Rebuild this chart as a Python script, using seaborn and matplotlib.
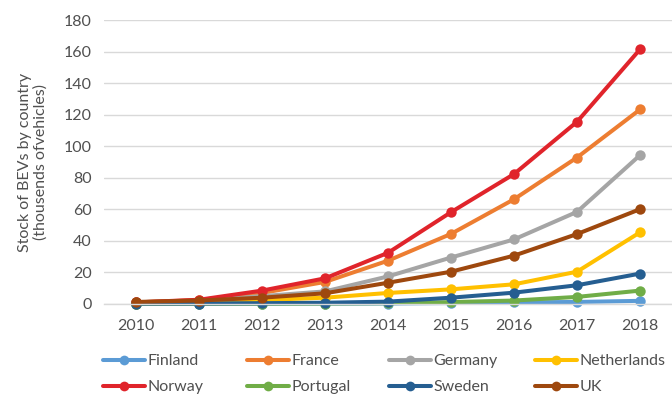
import numpy as np
import pandas as pd
import seaborn as sns
import matplotlib
matplotlib.use("Agg")
import matplotlib.pyplot as plt
from matplotlib.lines import Line2D

# Stock of battery electric vehicles, thousands of vehicles
years = [2010, 2011, 2012, 2013, 2014, 2015, 2016, 2017, 2018]
finland = [0.0, 0.1, 0.1, 0.2, 0.3, 0.6, 1.0, 1.3, 2.0]
france = [1.0, 2.5, 7.0, 14.0, 27.5, 44.5, 66.5, 93.0, 123.5]
germany = [1.0, 2.0, 5.0, 8.0, 17.5, 29.5, 41.0, 58.5, 94.5]
netherlands = [0.3, 1.0, 2.5, 4.0, 7.0, 9.3, 12.5, 20.5, 45.5]
norway = [1.0, 2.7, 8.5, 16.3, 32.5, 58.3, 82.5, 115.7, 161.7]
portugal = [0.0, 0.1, 0.2, 0.3, 0.5, 1.2, 2.2, 4.5, 8.5]
sweden = [0.2, 0.3, 0.5, 0.8, 1.5, 4.0, 7.2, 11.9, 19.3]
uk = [1.3, 2.2, 4.0, 6.8, 13.5, 20.5, 30.7, 44.4, 60.2]

countries = ["Finland", "France", "Germany", "Netherlands",
             "Norway", "Portugal", "Sweden", "UK"]
series = [finland, france, germany, netherlands, norway, portugal, sweden, uk]
colors = ["#5B9BD5", "#ED7D31", "#A5A5A5", "#FFC000",
          "#E0242B", "#70AD47", "#255E91", "#9E480E"]

df = pd.DataFrame({
    "year": np.tile(years, len(countries)),
    "stock": np.concatenate(series),
    "country": np.repeat(countries, len(years)),
})

sns.set_theme(style="white")
plt.rcParams["font.family"] = ["Lato", "DejaVu Sans"]

text_color = "#505050"
grid_color = "#D9D9D9"

fig = plt.figure(figsize=(6.72, 4.05), dpi=100)
ax = fig.add_axes([0.1555, 0.2494, 0.8438, 0.7000])

sns.lineplot(data=df, x="year", y="stock", hue="country",
             hue_order=countries, palette=colors, marker="o",
             linewidth=2.9, markersize=7.5, markeredgewidth=0,
             legend=False, ax=ax, sort=False)

for ln in ax.get_lines():
    ln.set_clip_on(False)
    ln.set_solid_capstyle("round")

ax.set_xlim(years[0] - 0.5, years[-1] + 0.5)
ax.set_ylim(0, 180)
ax.set_yticks(np.arange(0, 181, 20))
ax.set_xticks(years)
ax.set_xticks(np.arange(years[0] - 0.5, years[-1] + 0.6, 1), minor=True)

ax.grid(axis="y", color=grid_color, linewidth=1.0)
ax.set_axisbelow(True)
for side in ["top", "right", "left"]:
    ax.spines[side].set_visible(False)
ax.spines["bottom"].set_color(grid_color)
ax.spines["bottom"].set_linewidth(1.0)

ax.tick_params(axis="both", which="major", labelsize=11.5,
               labelcolor=text_color, length=0)
ax.tick_params(axis="y", pad=9)
ax.tick_params(axis="x", pad=11)
ax.tick_params(axis="x", which="minor", length=4, width=0.8,
               color=grid_color, direction="out")

ax.set_xlabel("")
ax.set_ylabel("Stock of BEVs by country\n(thousends ofvehicles)",
              fontsize=11.5, color=text_color, linespacing=1.05,
              labelpad=12)

# Legend: two rows of four entries in evenly spaced columns
col_x = [103, 247, 389, 535]
row_y = [365, 398]
W, H = 672, 405
for c in range(4):
    handles = []
    labels = []
    for r in range(2):
        i = r * 4 + c
        handles.append(Line2D([], [], color=colors[i], linewidth=2.9,
                              marker="o", markersize=7,
                              markeredgewidth=0))
        labels.append(countries[i])
    leg = fig.legend(handles, labels, loc="upper left",
                     bbox_to_anchor=(col_x[c] / W, 1 - (row_y[0] - 11) / H),
                     bbox_transform=fig.transFigure, frameon=False,
                     fontsize=11.5, handlelength=2.65, handletextpad=0.15,
                     borderpad=0, borderaxespad=0, labelspacing=0.75)
    for t in leg.get_texts():
        t.set_color(text_color)

fig.savefig("out.png", dpi=100)
